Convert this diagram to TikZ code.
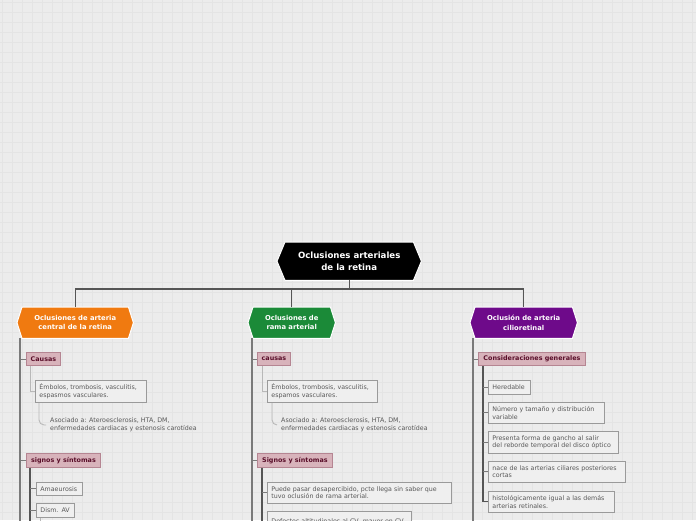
\documentclass[tikz,border=0pt]{standalone}
\usepackage{fontspec}
\setmainfont{DejaVu Sans}
\definecolor{bgc}{HTML}{ECECEC}
\definecolor{gridc}{HTML}{E4E4E4}
\definecolor{orangec}{HTML}{F07A10}
\definecolor{greenc}{HTML}{1B8A38}
\definecolor{purplec}{HTML}{6E0A8A}
\definecolor{pinkfill}{HTML}{D8B3BB}
\definecolor{pinkdraw}{HTML}{B58592}
\definecolor{pinktext}{HTML}{5A0F2A}
\definecolor{leaffill}{HTML}{EFEFEF}
\definecolor{leafdraw}{HTML}{9A9A9A}
\definecolor{leaftext}{HTML}{585858}
\definecolor{busc}{HTML}{555555}
\definecolor{trunkc}{HTML}{7A7A7A}
\definecolor{litec}{HTML}{B8B8B8}
\pgfdeclarelayer{gridlayer}
\pgfdeclarelayer{background}
\pgfsetlayers{gridlayer,background,main}
\newcommand\hexbg[3]{%
  \fill[#3, draw=white, line width=1pt] (#1.west) -- ([xshift=#2pt]#1.north west) -- ([xshift=-#2pt]#1.north east) -- (#1.east) -- ([xshift=-#2pt]#1.south east) -- ([xshift=#2pt]#1.south west) -- cycle;}
\tikzset{
  hextext/.style={text=white, font=\fontsize{6.8}{9.4}\selectfont\bfseries, align=center, inner sep=0pt, anchor=north west},
  roottext/.style={text=white, font=\fontsize{8.6}{11.6}\selectfont\bfseries, align=center, inner sep=0pt, anchor=north west},
  cat/.style={draw=pinkdraw, fill=pinkfill, line width=0.9pt, text=pinktext, font=\fontsize{6.4}{7}\selectfont\bfseries, inner xsep=3pt, inner ysep=0pt, anchor=north west},
  leaf/.style={draw=leafdraw, fill=leaffill, line width=0.8pt, text=leaftext, font=\fontsize{6.3}{7.4}\selectfont, align=left, inner xsep=4pt, inner ysep=0pt, anchor=north west},
  note/.style={text=leaftext, font=\fontsize{6.3}{7.4}\selectfont, align=left, inner xsep=4pt, inner ysep=0pt, anchor=north west},
  bus/.style={draw=busc, line width=1.1pt},
  trunk/.style={draw=trunkc, line width=1.3pt},
  subtrunk/.style={draw=busc, line width=1.6pt},
  tick/.style={draw=trunkc, line width=0.9pt},
  lite/.style={draw=litec, line width=0.9pt},
}
\begin{document}
\begin{tikzpicture}[x=1pt,y=-1pt]
\useasboundingbox (0,0) rectangle (696,520);
\clip (0,0) rectangle (696,520);
\begin{pgfonlayer}{gridlayer}
\fill[bgc] (0,0) rectangle (696,520);
\foreach \i in {2,12,...,692} \draw[gridc, line width=0.6pt] (\i,0) -- (\i,520);
\foreach \j in {2,12,...,512} \draw[gridc, line width=0.6pt] (0,\j) -- (696,\j);
\end{pgfonlayer}

% root and main branches
\node[roottext, minimum width=144pt, minimum height=38pt] (root) at (277,242) {Oclusiones arteriales\\de la retina};
\node[hextext, minimum width=116pt, minimum height=31pt] (c1) at (17,307) {Oclusiones de arteria\\central de la retina};
\node[hextext, minimum width=87pt, minimum height=31pt] (c2) at (248,307) {Oclusiones de\\rama arterial};
\node[hextext, minimum width=107pt, minimum height=31pt] (c3) at (470,307) {Oclusión de arteria\\cilioretinal};
\begin{pgfonlayer}{background}
\hexbg{root}{8}{black}
\hexbg{c1}{5}{orangec}
\hexbg{c2}{5}{greenc}
\hexbg{c3}{5}{purplec}
\end{pgfonlayer}
\coordinate (busy) at (0,289);
\draw[bus] (root.south) -- (root.south |- busy);
\draw[bus] (c1.north) -- (c1.north |- busy) -- (c3.north |- busy) -- (c3.north);
\draw[bus] (c2.north) -- (c2.north |- busy);

% column 1
\coordinate (t1a) at (20,338);
\coordinate (t1b) at (20,521);
\draw[trunk] (t1a) -- (t1b);
\node[cat, minimum width=34pt, minimum height=13pt] (k1a) at (26,352) {Causas};
\node[leaf, text width=103pt, minimum height=22pt] (e1a) at (35,380) {Émbolos, trombosis, vasculitis,\\espasmos vasculares.};
\node[note] (a1a) at (46,418) {Asociado a: Ateroesclerosis, HTA, DM,\\enfermedades cardiacas y estenosis carotídea};
\node[cat, minimum width=74pt, minimum height=14pt] (k1b) at (26,453) {signos y síntomas};
\node[leaf, text width=38pt, minimum height=13pt] (s1a) at (36,482) {Amaeurosis};
\node[leaf, text width=30pt, minimum height=14pt] (s1b) at (36,503) {Dism. AV};
\coordinate (s1end) at (40,521);
\coordinate (k1end) at (30,521);
\draw[tick] (k1a.west -| t1a) -- (k1a.west);
\draw[tick] (k1b.west -| t1a) -- (k1b.west);
\draw[lite] ([xshift=4pt]k1a.south west) |- (e1a.west);
\draw[lite, rounded corners=5pt] ([xshift=4pt]e1a.south west) |- (a1a.west);
\draw[subtrunk] ([xshift=4pt]k1b.south west) -- (k1end);
\draw[tick] (s1a.west -| k1end) -- (s1a.west);
\draw[tick] (s1b.west -| k1end) -- (s1b.west);
\draw[lite] ([xshift=4pt]s1b.south west) -- (s1end);

% column 2
\coordinate (t2a) at (252,338);
\coordinate (t2b) at (252,521);
\draw[trunk] (t2a) -- (t2b);
\node[cat, minimum width=33pt, minimum height=13pt] (k2a) at (257,352) {causas};
\node[leaf, text width=102pt, minimum height=22pt] (e2a) at (267,380) {Émbolos, trombosis, vasculitis,\\espamos vasculares.};
\node[note] (a2a) at (277,418) {Asociado a: Ateroesclerosis, HTA, DM,\\enfermedades cardiacas y estenosis carotídea};
\node[cat, minimum width=75pt, minimum height=14pt] (k2b) at (257,453) {Signos y síntomas};
\node[leaf, text width=176pt, minimum height=21pt] (s2a) at (267,482) {Puede pasar desapercibido, pcte llega sin saber que\\tuvo oclusión de rama arterial.};
\node[leaf, text width=136pt, minimum height=21pt] (s2b) at (267,511) {Defectos altitudinales al CV, mayor en CV\\};
\coordinate (k2end) at (262,521);
\draw[tick] (k2a.west -| t2a) -- (k2a.west);
\draw[tick] (k2b.west -| t2a) -- (k2b.west);
\draw[lite] ([xshift=5pt]k2a.south west) |- (e2a.west);
\draw[lite, rounded corners=5pt] ([xshift=5pt]e2a.south west) |- (a2a.west);
\draw[subtrunk] ([xshift=5pt]k2b.south west) -- (k2end);
\draw[tick] (s2a.west -| k2end) -- (s2a.west);

% column 3
\coordinate (t3a) at (473,338);
\coordinate (t3b) at (473,521);
\draw[trunk] (t3a) -- (t3b);
\node[cat, minimum width=107pt, minimum height=13pt] (k3) at (478,352) {Consideraciones generales};
\node[leaf, text width=34pt, minimum height=14pt] (p1) at (488,380) {Heredable};
\node[leaf, text width=108pt, minimum height=21pt] (p2) at (488,402) {Número y tamaño y distribución\\variable};
\node[leaf, text width=122pt, minimum height=22pt] (p3) at (488,431) {Presenta forma de gancho al salir\\del reborde temporal del disco óptico};
\node[leaf, text width=129pt, minimum height=21pt] (p4) at (488,461) {nace de las arterias ciliares posteriores\\cortas};
\node[leaf, text width=118pt, minimum height=21pt] (p5) at (488,491) {histológicamente igual a las demás\\arterias retinales.};
\draw[tick] (k3.west -| t3a) -- (k3.west);
\draw[subtrunk, line width=1.1pt] ([xshift=5pt]k3.south west) |- (p5.west);
\draw[tick] ([xshift=5pt]k3.south west |- p1.west) -- (p1.west);
\draw[tick] ([xshift=5pt]k3.south west |- p2.west) -- (p2.west);
\draw[tick] ([xshift=5pt]k3.south west |- p3.west) -- (p3.west);
\draw[tick] ([xshift=5pt]k3.south west |- p4.west) -- (p4.west);
\end{tikzpicture}
\end{document}
